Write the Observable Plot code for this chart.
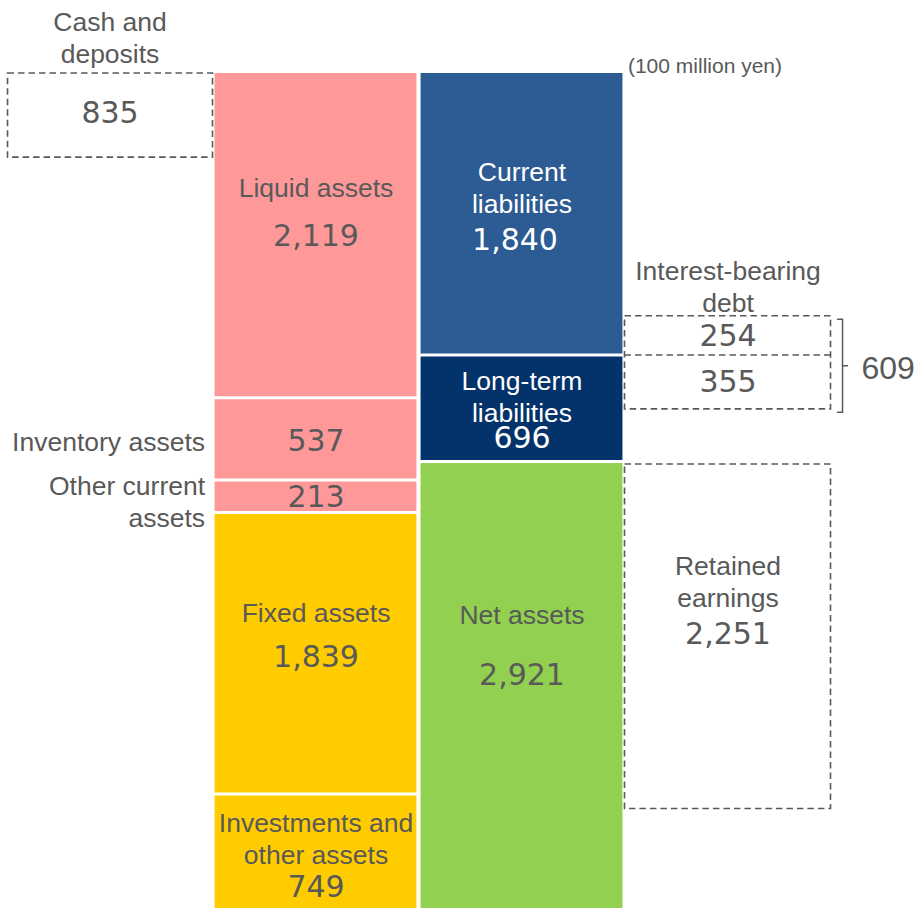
<!DOCTYPE html>
<html><head><meta charset="utf-8">
<script src="https://cdn.jsdelivr.net/npm/d3@7"></script>
<script src="https://cdn.jsdelivr.net/npm/@observablehq/plot@0.6"></script>
<style>body{margin:0;background:#fff}#chart svg{display:block}</style>
</head><body><div id="chart"></div>
<script>
// ---------- data ----------
const assetLabels = ["Liquid assets", "Inventory assets", "Other current\nassets", "Fixed assets", "Investments and\nother assets"];
const assetValues = [2119, 537, 213, 1839, 749];
const assetGroups = ["Current assets", "Current assets", "Current assets", "Fixed assets", "Fixed assets"];
const liabLabels = ["Current\nliabilities", "Long-term\nliabilities", "Net assets"];
const liabValues = [1840, 696, 2921];
const liabGroups = ["Current liabilities", "Long-term liabilities", "Net assets"];
const cashLabel = "Cash and\ndeposits";
const cashValue = 835;
const debtLabel = "Interest-bearing\ndebt";
const debtValues = [254, 355];     // part inside current liabilities, part inside long-term liabilities
const debtTotal = 609;
const retainedLabel = "Retained\nearnings";
const retainedValue = 2251;
const unitLabel = "(100 million yen)";

// ---------- styles / layout ----------
const groupDomain = ["Current assets", "Fixed assets", "Current liabilities", "Long-term liabilities", "Net assets"];
const groupColors = ["#FF9999", "#FFCC00", "#2D5B93", "#03336A", "#92D050"];
const grey = "#595959";
const labelFont = "'Liberation Sans', Arial, sans-serif";
const numFont = "'DejaVu Sans', Verdana, sans-serif";
const half = 0.49;
const cashBoxDepth = 550;            // drawn height of the cash box (not to scale in the original)
// pixel offsets of texts from segment centres
const assetLabelDy = [-49, 2, 5, -41, -13.5];
const assetNumDy = [1, 3, 1, 4, 36];
const assetInside = [true, false, false, true, true];
const liabLabelDy = [-28, -13, -71.5];
const liabNumDy = [26, 30, -9.5];
const liabNumDx = [-7, 0, 0];
const liabTextColor = ["white", "white", grey];

// ---------- derived ----------
const fmt = d3.format(",");
function stack(values) {
  let c = 0;
  return values.map(v => { const y1 = c; c += v; return {y1, y2: c, mid: (y1 + c) / 2}; });
}
const assets = stack(assetValues).map((s, i) => ({...s, col: 0, label: assetLabels[i], value: assetValues[i], group: assetGroups[i],
  labelDy: assetLabelDy[i], numDy: assetNumDy[i], inside: assetInside[i], numDx: 0, color: grey}));
const liabs = stack(liabValues).map((s, i) => ({...s, col: 1, label: liabLabels[i], value: liabValues[i], group: liabGroups[i],
  labelDy: liabLabelDy[i], numDy: liabNumDy[i], inside: true, numDx: liabNumDx[i], color: liabTextColor[i]}));
const segs = [...assets, ...liabs];
const total = d3.sum(assetValues);
const boundaries = segs.filter(s => s.y2 < total);

const debtTop = liabValues[0] - debtValues[0];
const debtBoxes = [
  {y1: debtTop, y2: liabValues[0], value: debtValues[0]},
  {y1: liabValues[0], y2: liabValues[0] + debtValues[1], value: debtValues[1]}
].map(d => ({...d, mid: (d.y1 + d.y2) / 2}));
const debtBottom = liabValues[0] + debtValues[1];
const retTop = liabValues[0] + liabValues[1];
const retBox = {y1: retTop, y2: retTop + retainedValue, mid: retTop + retainedValue / 2};

const bx0 = 2.5 + 0.032, bx1 = 2.5 + 0.056, bx2 = 2.5 + 0.080;
const bMid = (debtTop + debtBottom) / 2;
const bracket = [
  {x: bx0, y: debtTop}, {x: bx1, y: debtTop}, {x: bx1, y: bMid},
  {x: bx2, y: bMid}, {x: bx1, y: bMid},
  {x: bx1, y: debtBottom}, {x: bx0, y: debtBottom}
];

const dash = {fill: "none", stroke: grey, strokeWidth: 1.6, strokeDasharray: "6.5,4"};
const lbl = {fontFamily: labelFont, fontSize: 26.5, lineHeight: 1.21, fill: grey, lineAnchor: "middle"};
const num = {fontFamily: numFont, fontSize: 30, fill: grey, lineAnchor: "middle"};

// one text mark per segment so each can carry its own pixel offset
const segTexts = segs.flatMap(s => {
  const marks = [
    Plot.text([s], {x: "col", y: "mid", text: d => fmt(d.value), ...num, fill: s.color, dy: s.numDy, dx: s.numDx})
  ];
  if (s.inside) {
    marks.push(Plot.text([s], {x: "col", y: "mid", text: "label", ...lbl, fill: s.color, dy: s.labelDy}));
  } else {
    marks.push(Plot.text([s], {x: d => d.col - half, y: "mid", text: "label", ...lbl, textAnchor: "end", dx: -10, dy: s.labelDy}));
  }
  return marks;
});

const chart = Plot.plot({
  width: 920, height: 909,
  marginTop: 0, marginBottom: 0, marginLeft: 0, marginRight: 0,
  x: {domain: [-1, 2], range: [109.5, 727.5], axis: null},
  y: {domain: [0, total], range: [73, 908], axis: null},
  color: {domain: groupDomain, range: groupColors},
  style: {background: "white"},
  marks: [
    // bars
    Plot.rect(segs, {x1: d => d.col - half, x2: d => d.col + half, y1: "y1", y2: "y2", fill: "group"}),
    Plot.ruleY(boundaries, {y: "y2", x1: d => d.col - 0.5, x2: d => d.col + 0.5, stroke: "white", strokeWidth: 3}),
    ...segTexts,
    // cash box
    Plot.rect([cashValue], {x1: -1 - 0.495, x2: -1 + 0.5, y1: 0, y2: cashBoxDepth, ...dash}),
    Plot.text([cashValue], {x: -1, y: cashBoxDepth / 2, text: d => fmt(d), ...num, dy: -2}),
    Plot.text([cashLabel], {x: -1, y: 0, text: d => d, ...lbl, dy: -37}),
    // interest-bearing debt: one outline plus a dashed divider
    Plot.rect([{y1: debtTop, y2: debtBottom}], {x1: 2 - 0.5, x2: 2 + 0.5, y1: "y1", y2: "y2", ...dash}),
    Plot.ruleY([liabValues[0]], {x1: 2 - 0.5, x2: 2 + 0.5, stroke: grey, strokeWidth: 1.6, strokeDasharray: "6.5,4"}),
    Plot.text(debtBoxes.slice(0, 1), {x: 2, y: "mid", text: d => fmt(d.value), ...num, dy: 1}),
    Plot.text(debtBoxes.slice(1), {x: 2, y: "mid", text: d => fmt(d.value), ...num, dy: 0}),
    Plot.text([debtLabel], {x: 2, y: debtTop, text: d => d, ...lbl, dy: -30}),
    Plot.line(bracket, {x: "x", y: "y", stroke: grey, strokeWidth: 1.5, curve: "linear", dy: 3}),
    Plot.text([debtTotal], {x: bx2, y: bMid, text: d => fmt(d), fontFamily: labelFont, fontSize: 32, fill: grey, lineAnchor: "middle", textAnchor: "start", dx: 14, dy: 6}),
    // retained earnings
    Plot.rect([retBox], {x1: 2 - 0.5, x2: 2 + 0.5, y1: "y1", y2: "y2", ...dash, dy: 3}),
    Plot.text([retainedLabel], {x: 2, y: retBox.mid, text: d => d, ...lbl, dy: -53}),
    Plot.text([retainedValue], {x: 2, y: retBox.mid, text: d => fmt(d), ...num, dy: 1}),
    // unit
    Plot.text([unitLabel], {x: 1 + half, y: 0, text: d => d, fontFamily: labelFont, fontSize: 21, fill: grey, textAnchor: "start", lineAnchor: "middle", dx: 5, dy: -7})
  ]
});
document.getElementById("chart").append(chart);
</script>
</body></html>
